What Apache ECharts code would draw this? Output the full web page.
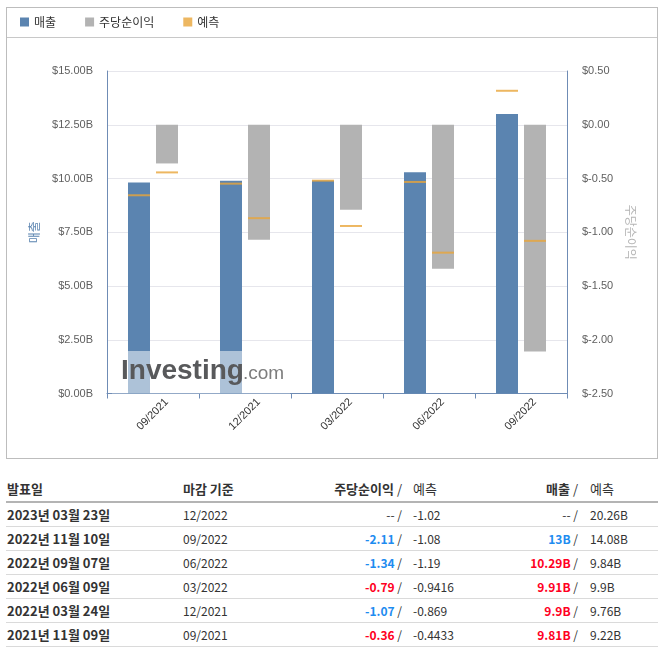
<!DOCTYPE html>
<html><head><meta charset="utf-8">
<script src="https://cdn.jsdelivr.net/npm/echarts@6/dist/echarts.min.js"></script>
<style>
html,body{margin:0;padding:0;background:#fff;width:661px;height:651px;overflow:hidden;}
#chart{position:absolute;left:0;top:0;width:661px;height:460px;}
#frame{position:absolute;left:6px;top:7px;width:650px;height:450px;border:1px solid #bdbdbd;pointer-events:none;}
#sep{position:absolute;left:7px;top:37px;width:650px;height:1px;background:#c8c8c8;pointer-events:none;}
#tbl{position:absolute;left:6px;top:476px;}
table{border-collapse:collapse;table-layout:fixed;width:652px;font-family:"Noto Sans CJK KR","Liberation Sans",sans-serif;font-size:12px;color:#333;}
th{height:25px;padding:0;text-align:left;font-weight:bold;font-size:13px;border-bottom:2px solid #b4b4b4;vertical-align:middle;line-height:1;}
td{height:23px;padding:0;border-bottom:1px solid #dadada;vertical-align:middle;line-height:1;}
td.d{font-weight:bold;font-size:13px;padding-left:1px;}
.r{text-align:right;}
.f{padding-left:11px;}
.f2{padding-left:12px;}
.n{font-weight:normal;}
.v{font-weight:bold;}
.up{color:#ff0022;}
.dn{color:#1e8cf0;}
</style></head>
<body>
<div id="chart"></div>
<div id="frame"></div>
<div id="sep"></div>
<div id="tbl"></div>
<script>
// ---- chart data ----
const categories = ['09/2021','12/2021','03/2022','06/2022','09/2022'];
const revenue = [9.81, 9.9, 9.91, 10.29, 13];
const revenueForecast = [9.22, 9.76, 9.9, 9.84, 14.08];
const eps = [-0.36, -1.07, -0.79, -1.34, -2.11];
const epsForecast = [-0.4433, -0.869, -0.9416, -1.19, -1.08];
const leftTicks = {min: 0, max: 15, interval: 2.5};
const rightTicks = {min: -2.5, max: 0.5, interval: 0.5};

// ---- table data ----
const tDates = ['2023년 03월 23일','2022년 11월 10일','2022년 09월 07일','2022년 06월 09일','2022년 03월 24일','2021년 11월 09일'];
const tPeriods = ['12/2022','09/2022','06/2022','03/2022','12/2021','09/2021'];
const tEps = ['--','-2.11','-1.34','-0.79','-1.07','-0.36'];
const tEpsClass = ['','dn','dn','up','dn','up'];
const tEpsF = ['-1.02','-1.08','-1.19','-0.9416','-0.869','-0.4433'];
const tRev = ['--','13B','10.29B','9.91B','9.9B','9.81B'];
const tRevClass = ['','dn','up','up','up','up'];
const tRevF = ['20.26B','14.08B','9.84B','9.9B','9.76B','9.22B'];

const BLUE = '#5b84b0', GRAY = '#b3b3b3', ORANGE = '#e9a53a', AXIS = '#6f8cb5';
const FONT = '"Liberation Sans", "Noto Sans CJK KR", sans-serif';

const chart = echarts.init(document.getElementById('chart'), null, {renderer: 'canvas'});
chart.setOption({
  animation: false,
  textStyle: {fontFamily: FONT},
  legend: {
    left: 20, top: 16, padding: 0, itemGap: 29, itemWidth: 9, itemHeight: 9, icon: 'rect',
    textStyle: {fontSize: 12, color: '#333', fontFamily: '"Noto Sans CJK KR", sans-serif'},
    data: ['매출', '주당순이익', '예측']
  },
  grid: {left: 107, right: 94, top: 71, bottom: 66.5, containLabel: false},
  xAxis: {
    type: 'category', data: categories,
    axisLine: {lineStyle: {color: AXIS, width: 1}},
    axisTick: {show: true, length: 5, lineStyle: {color: AXIS}},
    axisLabel: {rotate: 45, fontSize: 11, color: '#333', align: 'right', verticalAlign: 'top', margin: -7, padding: [14, 0, 0, 0]},
    splitLine: {show: false}
  },
  yAxis: [
    {
      type: 'value', min: leftTicks.min, max: leftTicks.max, interval: leftTicks.interval,
      name: '매출', nameLocation: 'middle', nameGap: 67, nameRotate: 90,
      nameTextStyle: {color: BLUE, fontSize: 12, fontFamily: '"Noto Sans CJK KR", sans-serif'},
      axisLine: {show: true, lineStyle: {color: AXIS}},
      axisTick: {show: false},
      axisLabel: {margin: 14, fontSize: 11, color: '#5e5e5e', formatter: v => '$' + v.toFixed(2) + 'B'},
      splitLine: {show: true, lineStyle: {color: '#e6e6ec'}}
    },
    {
      type: 'value', min: rightTicks.min, max: rightTicks.max, interval: rightTicks.interval,
      name: '주당순이익', nameLocation: 'middle', nameGap: 57, nameRotate: -90,
      nameTextStyle: {color: '#b5b5b5', fontSize: 12, fontFamily: '"Noto Sans CJK KR", sans-serif'},
      axisLine: {show: true, lineStyle: {color: AXIS}},
      axisTick: {show: false},
      axisLabel: {margin: 15, fontSize: 11, color: '#5e5e5e', formatter: v => (v < 0 ? '$-' + Math.abs(v).toFixed(2) : '$' + v.toFixed(2))},
      splitLine: {show: false}
    }
  ],
  series: [
    {name: '매출', type: 'bar', yAxisIndex: 0, data: revenue, barWidth: 22, barGap: '27.3%', itemStyle: {color: BLUE}},
    {name: '주당순이익', type: 'bar', yAxisIndex: 1, data: eps, barWidth: 22, itemStyle: {color: GRAY}},
    {name: '예측', type: 'scatter', yAxisIndex: 0, data: revenueForecast, symbol: 'rect', symbolSize: [22, 2], symbolOffset: [-14, 0], itemStyle: {color: ORANGE}, z: 5},
    {name: '예측', type: 'scatter', yAxisIndex: 1, data: epsForecast, symbol: 'rect', symbolSize: [22, 2], symbolOffset: [14, 0], itemStyle: {color: ORANGE}, z: 5}
  ],
  graphic: [
    {type: 'rect', z: 50, shape: {x: 112, y: 351, width: 178, height: 42.5}, style: {fill: 'rgba(255,255,255,0.5)'}},
    {type: 'text', z: 51, left: 121, top: 357, style: {text: 'Investing', font: 'bold 28px "Liberation Sans", Arial', fill: '#58595b'}},
    {type: 'text', z: 51, left: 243, top: 364, style: {text: '.com', font: 'normal 19px "Liberation Sans", Arial', fill: '#7d7d7d'}}
  ]
});

// ---- table ----
let html = '<table><colgroup><col style="width:177px"><col style="width:120px"><col style="width:99px"><col style="width:100px"><col style="width:76px"><col style="width:80px"></colgroup>';
html += '<tr><th style="padding-left:1px">발표일</th><th>마감 기준</th><th class="r">주당순이익 <span class="n">/</span></th><th class="f n">예측</th><th class="r">매출 <span class="n">/</span></th><th class="f2 n">예측</th></tr>';
for (let i = 0; i < tDates.length; i++) {
  html += '<tr><td class="d">' + tDates[i] + '</td><td>' + tPeriods[i] + '</td>' +
    '<td class="r"><span class="' + (tEpsClass[i] ? 'v ' + tEpsClass[i] : '') + '">' + tEps[i] + '</span> /</td>' +
    '<td class="f">' + tEpsF[i] + '</td>' +
    '<td class="r"><span class="' + (tRevClass[i] ? 'v ' + tRevClass[i] : '') + '">' + tRev[i] + '</span> /</td>' +
    '<td class="f2">' + tRevF[i] + '</td></tr>';
}
html += '</table>';
document.getElementById('tbl').innerHTML = html;
</script>
</body></html>
